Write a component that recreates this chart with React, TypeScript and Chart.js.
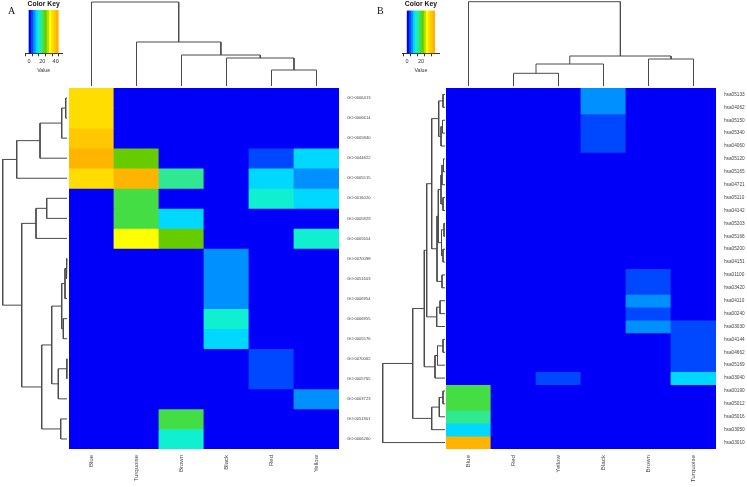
import React, { useEffect, useRef } from "react";
import { Chart, registerables } from "chart.js";

Chart.register(...registerables);
Chart.defaults.font.family = "'Liberation Sans', Arial, sans-serif";

const W = 747;
const H = 487;

// ---------- shared colour palette (colour key bands, low -> high) ----------
const palette = [
  "#0000FA", "#0048FF", "#0090FF", "#00D8FF", "#10F0D0", "#30E890", "#44DD44",
  "#66CC00", "#B0E000", "#FFFF00", "#FFDD00", "#FFC800", "#FFB400",
];

// ---------- Panel A ----------
const colsA = ["Blue", "Turquoise", "Brown", "Black", "Red", "Yellow"];
const rowsA = [
  "GO:0006413", "GO:0006614", "GO:0005840", "GO:0044822", "GO:0005515", "GO:0016020",
  "GO:0005829", "GO:0005654", "GO:0070098", "GO:0051603", "GO:0006954", "GO:0006955",
  "GO:0005576", "GO:0070062", "GO:0005765", "GO:0003723", "GO:0051301", "GO:0006260",
];
const valuesA = [
  [35.5, 0, 0, 0, 0, 0],
  [35.5, 0, 0, 0, 0, 0],
  [38.9, 0, 0, 0, 0, 0],
  [42.3, 25.4, 0, 0, 5.1, 11.8],
  [35.5, 42.3, 18.6, 0, 11.8, 8.5],
  [0, 22, 0, 0, 15.2, 11.8],
  [0, 22, 11.8, 0, 0, 0],
  [0, 32.2, 25.4, 0, 0, 15.2],
  [0, 0, 0, 8.5, 0, 0],
  [0, 0, 0, 8.5, 0, 0],
  [0, 0, 0, 8.5, 0, 0],
  [0, 0, 0, 15.2, 0, 0],
  [0, 0, 0, 11.8, 0, 0],
  [0, 0, 0, 0, 5.1, 0],
  [0, 0, 0, 0, 5.1, 0],
  [0, 0, 0, 0, 0, 8.5],
  [0, 0, 22, 0, 0, 0],
  [0, 0, 15.2, 0, 0, 0],
];
const keyMaxA = 44;
const keyTicksA = [0, 10, 20, 30, 40];
const keyLabelsA = [0, 20, 40];
// merges: [left, right, height]; negative = leaf (1-based), positive = earlier merge (1-based)
const rowMergesA = [
  [-1, -2, 1.3], [1, -3, 5.3], [2, -4, 27], [3, -5, 50.3],
  [-6, -7, 20.3], [5, -8, 31],
  [-9, -10, 0.7], [7, -11, 2], [-12, -13, 3.7], [8, 9, 5.3],
  [-14, -15, 0.3], [11, -16, 8.7], [10, 12, 15.3],
  [-17, -18, 6.3], [13, 14, 25.3], [6, 15, 45.3], [4, 16, 64.3],
];
const colMergesA = [
  [-5, -6, 16], [-4, 1, 28], [-3, 2, 31], [-2, 3, 44], [-1, 4, 84],
];

// ---------- Panel B ----------
const colsB = ["Blue", "Red", "Yellow", "Black", "Brown", "Turquoise"];
const rowsB = [
  "hsa05133", "hsa04062", "hsa05150", "hsa05340", "hsa04060", "hsa05120", "hsa05165",
  "hsa04721", "hsa05110", "hsa04142", "hsa05203", "hsa05166", "hsa05200", "hsa04151",
  "hsa01100", "hsa03420", "hsa04110", "hsa00240", "hsa03030", "hsa04144", "hsa04662",
  "hsa05169", "hsa03040", "hsa00190", "hsa05012", "hsa05016", "hsa03050", "hsa03010",
];
const valuesB = [
  [0, 0, 0, 7.7, 0, 0],
  [0, 0, 0, 7.7, 0, 0],
  [0, 0, 0, 4.6, 0, 0],
  [0, 0, 0, 4.6, 0, 0],
  [0, 0, 0, 4.6, 0, 0],
  [0, 0, 0, 0, 0, 0],
  [0, 0, 0, 0, 0, 0],
  [0, 0, 0, 0, 0, 0],
  [0, 0, 0, 0, 0, 0],
  [0, 0, 0, 0, 0, 0],
  [0, 0, 0, 0, 0, 0],
  [0, 0, 0, 0, 0, 0],
  [0, 0, 0, 0, 0, 0],
  [0, 0, 0, 0, 0, 0],
  [0, 0, 0, 0, 4.6, 0],
  [0, 0, 0, 0, 4.6, 0],
  [0, 0, 0, 0, 7.7, 0],
  [0, 0, 0, 0, 4.6, 0],
  [0, 0, 0, 0, 7.7, 4.6],
  [0, 0, 0, 0, 0, 4.6],
  [0, 0, 0, 0, 0, 4.6],
  [0, 0, 0, 0, 0, 4.6],
  [0, 0, 4.6, 0, 0, 10.7],
  [19.9, 0, 0, 0, 0, 0],
  [19.9, 0, 0, 0, 0, 0],
  [16.8, 0, 0, 0, 0, 0],
  [10.7, 0, 0, 0, 0, 0],
  [38.3, 0, 0, 0, 0, 0],
];
const keyMaxB = 39.8;
const keyTicksB = [0, 10, 20, 30];
const keyLabelsB = [0, 20];
const rowMergesB = [
  [-1, -2, 2], [-3, -4, 2.5], [2, -5, 4], [1, 3, 6.3],
  [-6, -7, 1.5], [5, -8, 3], [-9, -10, 2], [6, 7, 4],
  [-11, -12, 1], [-13, -14, 2], [9, 10, 3.5], [8, 11, 6.7],
  [-15, -16, 3], [12, 13, 8], [4, 14, 13.3],
  [-17, -18, 5], [16, -19, 8.3], [15, 17, 18.3],
  [-20, -21, 2], [19, -22, 7.5], [20, -23, 10], [18, 21, 20.7],
  [-24, -25, 2], [23, -26, 5.7], [24, -27, 13.3], [22, 25, 32.3], [26, -28, 62.3],
];
const colMergesB = [
  [-2, -3, 12.7], [1, -4, 22], [-5, -6, 27], [2, 3, 30], [-1, 4, 84.3],
];

// ---------- layout (pixel boxes, not data) ----------
const layoutA = {
  heat: { l: 69, r: 339, t: 88, b: 449 },
  rowDend: { l: 2.7, r: 67 },
  colDend: { t: 2, b: 86 },
  key: { l: 25.3, r: 62, t: 10, b: 53.3 },
  rowLabelW: 34, rowFont: 4.1, colFont: 6,
};
const layoutB = {
  heat: { l: 446, r: 716, t: 88, b: 449 },
  rowDend: { l: 382.7, r: 445 },
  colDend: { t: 1.7, b: 86 },
  key: { l: 402.5, r: 439.3, t: 10.5, b: 53.3 },
  rowLabelW: 31, rowFont: 4.7, colFont: 6.2,
};

function colorFor(v: number, max: number) {
  const n = palette.length;
  const k = Math.max(0, Math.min(n - 1, Math.floor((v / max) * n)));
  return palette[k];
}

function dendroSegments(merges: number[][]) {
  const info: { pos: number; h: number }[] = [];
  const get = (id: number) => (id < 0 ? { pos: -id - 1, h: 0 } : info[id - 1]);
  const segs: { pos: number; h: number }[][] = [];
  merges.forEach(([a, b, h]) => {
    const A = get(a);
    const B = get(b);
    segs.push([
      { pos: A.pos, h: A.h },
      { pos: A.pos, h },
      { pos: B.pos, h },
      { pos: B.pos, h: B.h },
    ]);
    info.push({ pos: (A.pos + B.pos) / 2, h });
  });
  return segs;
}

const noPlugins = { legend: { display: false }, tooltip: { enabled: false }, title: { display: false } };

function heatConfig(rows: string[], cols: string[], values: number[][], max: number, L: any) {
  const g = L.heat;
  const colLabelH = H - g.b;
  return {
    type: "bar",
    data: {
      labels: cols,
      datasets: rows.map((r, i) => ({
        label: r,
        data: cols.map(() => 1),
        backgroundColor: values[i].map((v) => colorFor(v, max)),
        borderWidth: 0,
        inflateAmount: 0.4,
        barPercentage: 1,
        categoryPercentage: 1,
      })),
    },
    options: {
      responsive: false,
      animation: false,
      events: [],
      layout: { padding: { left: g.l, top: g.t, right: W - g.r - L.rowLabelW, bottom: 0 } },
      plugins: noPlugins,
      scales: {
        x: {
          type: "category",
          stacked: true,
          position: "bottom",
          grid: { display: false, drawTicks: false },
          border: { display: false },
          ticks: {
            minRotation: 90, maxRotation: 90, autoSkip: false, padding: 6,
            color: "#444", font: { size: L.colFont },
          },
          afterFit: (s: any) => { s.height = colLabelH; },
        },
        y: {
          type: "linear",
          stacked: true,
          position: "right",
          reverse: true,
          min: 0,
          max: rows.length,
          grid: { display: false, drawTicks: false },
          border: { display: false },
          afterBuildTicks: (s: any) => { s.ticks = rows.map((_, i) => ({ value: i + 0.5 })); },
          ticks: {
            autoSkip: false, padding: 8, color: "#444", font: { size: L.rowFont },
            callback: (v: any) => rows[Math.floor(Number(v))],
          },
          afterFit: (s: any) => { s.width = L.rowLabelW; },
        },
      },
    },
  };
}

function dendroConfig(merges: number[][], n: number, orient: "row" | "col", L: any) {
  const segs = dendroSegments(merges);
  const maxH = merges[merges.length - 1][2];
  const datasets = segs.map((seg) => ({
    data: seg.map((p) => (orient === "row" ? { x: p.h, y: p.pos } : { x: p.pos, y: p.h })),
    showLine: true,
    pointRadius: 0,
    borderColor: "#4a4a4a",
    borderWidth: 1,
    clip: false,
    tension: 0,
  }));
  const padding =
    orient === "row"
      ? { left: L.rowDend.l, right: W - L.rowDend.r, top: L.heat.t, bottom: H - L.heat.b }
      : { left: L.heat.l, right: W - L.heat.r, top: L.colDend.t, bottom: H - L.colDend.b };
  const scales =
    orient === "row"
      ? {
          x: { type: "linear", display: false, reverse: true, min: 0, max: maxH },
          y: { type: "linear", display: false, reverse: true, min: -0.5, max: n - 0.5 },
        }
      : {
          x: { type: "linear", display: false, min: -0.5, max: n - 0.5 },
          y: { type: "linear", display: false, min: 0, max: maxH },
        };
  return {
    type: "scatter",
    data: { datasets },
    options: { responsive: false, animation: false, events: [], layout: { padding }, plugins: noPlugins, scales },
  };
}

function keyConfig(max: number, ticks: number[], labels: number[], L: any) {
  const k = L.key;
  const n = palette.length;
  const titleSize = 6.8;
  const titleH = titleSize * 1.2 + 2;
  const axisH = 20;
  return {
    type: "bar",
    data: {
      datasets: [{
        data: palette.map((_, i) => ({ x: ((i + 0.5) * max) / n, y: 1 })),
        backgroundColor: palette,
        borderWidth: 0,
        inflateAmount: 0.3,
        barPercentage: 1,
        categoryPercentage: 1,
      }],
    },
    options: {
      responsive: false,
      animation: false,
      events: [],
      layout: { padding: { left: k.l, right: W - k.r, top: k.t - titleH, bottom: H - k.b - axisH } },
      plugins: {
        legend: { display: false },
        tooltip: { enabled: false },
        title: {
          display: true, text: "Color Key", color: "#111",
          font: { size: titleSize, weight: "bold" }, padding: { top: 0, bottom: 2 },
        },
      },
      scales: {
        x: {
          type: "linear", min: 0, max,
          afterBuildTicks: (s: any) => { s.ticks = ticks.map((v) => ({ value: v })); },
          ticks: {
            autoSkip: false, maxRotation: 0, padding: 2, color: "#333", font: { size: 5.5 },
            callback: (v: any) => (labels.includes(Number(v)) ? String(v) : ""),
          },
          grid: { drawOnChartArea: false, tickLength: 3, color: "#333" },
          border: { display: true, color: "#333" },
          title: { display: true, text: "Value", color: "#333", font: { size: 5.2 }, padding: { top: 1, bottom: 0 } },
          afterFit: (s: any) => { s.height = axisH; },
        },
        y: { display: false, min: 0, max: 1 },
      },
    },
  };
}

function ChartLayer({ make }: { make: () => any }) {
  const ref = useRef<HTMLCanvasElement>(null);
  useEffect(() => {
    const chart = new Chart(ref.current as HTMLCanvasElement, make());
    return () => chart.destroy();
  }, []);
  return (
    <canvas
      ref={ref}
      width={W}
      height={H}
      style={{ position: "absolute", left: 0, top: 0, width: W, height: H }}
    />
  );
}

document.body.style.margin = "0";

export default function App() {
  return (
    <div style={{ position: "relative", width: W, height: H, background: "#fff", overflow: "hidden" }}>
      <ChartLayer make={() => heatConfig(rowsA, colsA, valuesA, keyMaxA, layoutA)} />
      <ChartLayer make={() => dendroConfig(rowMergesA, rowsA.length, "row", layoutA)} />
      <ChartLayer make={() => dendroConfig(colMergesA, colsA.length, "col", layoutA)} />
      <ChartLayer make={() => keyConfig(keyMaxA, keyTicksA, keyLabelsA, layoutA)} />
      <ChartLayer make={() => heatConfig(rowsB, colsB, valuesB, keyMaxB, layoutB)} />
      <ChartLayer make={() => dendroConfig(rowMergesB, rowsB.length, "row", layoutB)} />
      <ChartLayer make={() => dendroConfig(colMergesB, colsB.length, "col", layoutB)} />
      <ChartLayer make={() => keyConfig(keyMaxB, keyTicksB, keyLabelsB, layoutB)} />
      <div style={{ position: "absolute", left: 8, top: 5, font: "10px 'Liberation Serif', serif", color: "#111" }}>A</div>
      <div style={{ position: "absolute", left: 377, top: 5, font: "10px 'Liberation Serif', serif", color: "#111" }}>B</div>
    </div>
  );
}
